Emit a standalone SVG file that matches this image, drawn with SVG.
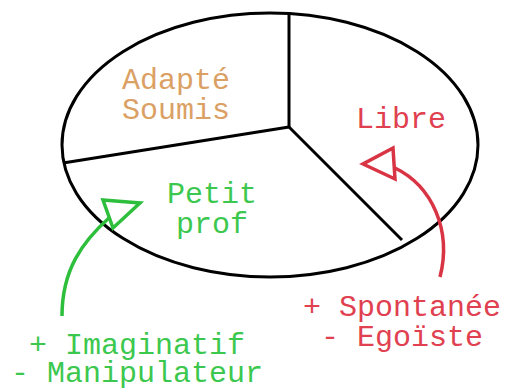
<svg xmlns="http://www.w3.org/2000/svg" width="507" height="391" viewBox="0 0 507 391">
<style>
text{font-family:"Liberation Mono","Courier New",monospace;font-size:30px;text-anchor:middle}
.tan{fill:#dba064}.grn{fill:#3cc84e}.red{fill:#e0404f}
.blk{fill:none;stroke:#000;stroke-width:3}
.ga{fill:none;stroke:#2dbf3c;stroke-width:3.5}
.ra{fill:none;stroke:#d93444;stroke-width:3.5}
</style>
<rect width="507" height="391" fill="#fff"/>
<g id="pie">
<ellipse class="blk" cx="270" cy="145" rx="208" ry="132"/>
</g>
<g id="connectors">
<line class="blk" x1="289" y1="127" x2="289" y2="13"/>
<line class="blk" x1="289" y1="127" x2="63" y2="163"/>
<line class="blk" x1="289" y1="127" x2="402" y2="240"/>
<path class="ga" d="M62,316 C62,270 82,242 110,217"/>
<polygon class="ga" points="103,200 140,203 113,228"/>
<path class="ra" d="M440,277 C452,230 432,186 395,168"/>
<polygon class="ra" points="393,148 363,164 395,179"/>
</g>
<g id="adapte"><text class="tan" x="176" y="89">Adapté</text><text class="tan" x="176" y="119">Soumis</text></g>
<g id="libre"><text class="red" x="401" y="128">Libre</text></g>
<g id="petit"><text class="grn" x="212" y="203">Petit</text><text class="grn" x="212" y="233">prof</text></g>
<g id="green-label"><text class="grn" x="137" y="354">+ Imaginatif</text><text class="grn" x="137" y="382">- Manipulateur</text></g>
<g id="red-label"><text class="red" x="402" y="316">+ Spontanée</text><text class="red" x="402" y="346">- Egoïste</text></g>
</svg>
